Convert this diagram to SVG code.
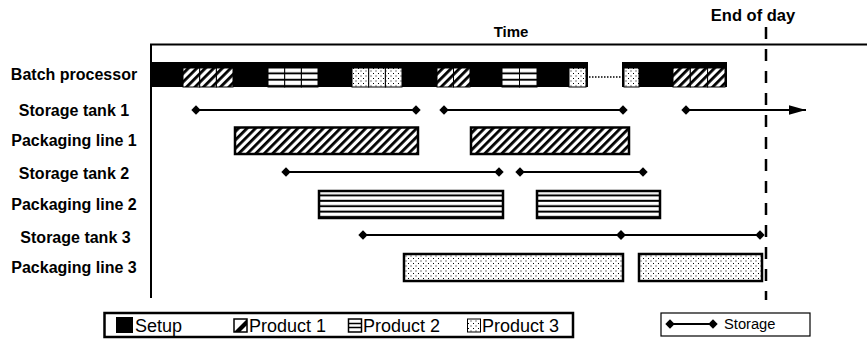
<svg xmlns="http://www.w3.org/2000/svg" width="867" height="339" viewBox="0 0 867 339">
<style>
.lbl{font-family:"Liberation Sans",Arial,sans-serif;font-weight:bold;font-size:16px;fill:#000;text-anchor:middle}
.leg{font-family:"Liberation Sans",Arial,sans-serif;font-size:18px;fill:#000}
.box{stroke:#000;stroke-width:2.5}
.cell{stroke:#000;stroke-width:1}
.st{stroke:#000;stroke-width:2;fill:none;marker-start:url(#dia);marker-end:url(#dia)}
</style>
<defs>
<pattern id="p1" patternUnits="userSpaceOnUse" width="6" height="6" patternTransform="rotate(45)">
<rect width="6" height="6" fill="#fff"/>
<rect x="0" y="0" width="2.8" height="6" fill="#000"/>
</pattern>
<pattern id="p2big" patternUnits="objectBoundingBox" width="1" height="0.2">
<rect width="400" height="6" fill="#fff"/>
<rect x="0" y="3.4" width="400" height="2" fill="#000"/>
</pattern>
<pattern id="p2small" patternUnits="objectBoundingBox" width="1" height="0.3333">
<rect width="40" height="7" fill="#fff"/>
<rect x="0" y="4.4" width="40" height="2" fill="#000"/>
</pattern>
<pattern id="p3" patternUnits="userSpaceOnUse" width="5" height="5">
<rect width="5" height="5" fill="#fff"/>
<rect x="0.5" y="0.5" width="1" height="1" fill="#000"/>
<rect x="3" y="3" width="1" height="1" fill="#000"/>
</pattern>
<marker id="dia" viewBox="-5 -5 10 10" refX="0" refY="0" markerWidth="10" markerHeight="10" markerUnits="userSpaceOnUse" orient="auto">
<path d="M0,-4.7 L4.7,0 L0,4.7 L-4.7,0 Z" fill="#000"/>
</marker>
<marker id="arr" viewBox="0 -5 17 10" refX="17" refY="0" markerWidth="17" markerHeight="10" markerUnits="userSpaceOnUse" orient="auto">
<path d="M0,-4.7 L17,0 L0,4.7 Z" fill="#000"/>
</marker>
</defs>

<g id="axes">
<line x1="151" y1="44" x2="151" y2="298" stroke="#000" stroke-width="2"/>
<line x1="150" y1="44.5" x2="867" y2="44.5" stroke="#000" stroke-width="2"/>
<text class="lbl" x="511" y="37" style="font-size:15px">Time</text>
<text class="lbl" x="753" y="21" style="font-size:16.5px">End of day</text>
</g>

<g id="batch-processor">
<text class="lbl" x="74" y="80">Batch processor</text>
<rect x="151" y="62" width="437" height="25" fill="#000"/>
<rect x="622" y="62" width="105" height="25" fill="#000"/>
<line x1="589" y1="77" x2="621" y2="77" stroke="#000" stroke-width="1.3" stroke-dasharray="1.5 1.5"/>
<g class="cell">
<rect x="183" y="68" width="16.7" height="19" fill="url(#p1)"/>
<rect x="199.7" y="68" width="16.7" height="19" fill="url(#p1)"/>
<rect x="216.4" y="68" width="16.6" height="19" fill="url(#p1)"/>
<rect x="268" y="68" width="16.7" height="19" fill="url(#p2small)"/>
<rect x="284.7" y="68" width="16.7" height="19" fill="url(#p2small)"/>
<rect x="301.4" y="68" width="16.6" height="19" fill="url(#p2small)"/>
<rect x="352" y="68" width="16.7" height="19" fill="url(#p3)"/>
<rect x="368.7" y="68" width="16.7" height="19" fill="url(#p3)"/>
<rect x="385.4" y="68" width="16.6" height="19" fill="url(#p3)"/>
<rect x="437" y="68" width="16.5" height="19" fill="url(#p1)"/>
<rect x="453.5" y="68" width="16.5" height="19" fill="url(#p1)"/>
<rect x="502" y="68" width="17.5" height="19" fill="url(#p2small)"/>
<rect x="519.5" y="68" width="17.5" height="19" fill="url(#p2small)"/>
<rect x="569" y="68" width="17" height="19" fill="url(#p3)"/>
<rect x="624" y="68" width="15" height="19" fill="url(#p3)"/>
<rect x="673" y="68" width="17.3" height="19" fill="url(#p1)"/>
<rect x="690.3" y="68" width="17.3" height="19" fill="url(#p1)"/>
<rect x="707.6" y="68" width="17.4" height="19" fill="url(#p1)"/>
</g>
</g>

<g id="storage-tank-1">
<text class="lbl" x="74" y="116">Storage tank 1</text>
<line class="st" x1="196" y1="110" x2="416" y2="110"/>
<line class="st" x1="444" y1="110" x2="623" y2="110"/>
<line x1="686" y1="110" x2="806" y2="110" stroke="#000" stroke-width="2" marker-start="url(#dia)" marker-end="url(#arr)"/>
</g>

<g id="packaging-line-1">
<text class="lbl" x="74" y="146">Packaging line 1</text>
<rect class="box" x="235" y="127.5" width="183" height="26.5" fill="url(#p1)"/>
<rect class="box" x="471" y="127.5" width="158" height="26.5" fill="url(#p1)"/>
</g>

<g id="storage-tank-2">
<text class="lbl" x="74" y="179">Storage tank 2</text>
<line class="st" x1="286" y1="172" x2="499" y2="172"/>
<line class="st" x1="520" y1="172" x2="643" y2="172"/>
</g>

<g id="packaging-line-2">
<text class="lbl" x="74" y="210">Packaging line 2</text>
<rect class="box" x="319" y="191" width="184" height="27" fill="url(#p2big)"/>
<rect class="box" x="537" y="191" width="123" height="27" fill="url(#p2big)"/>
</g>

<g id="storage-tank-3">
<text class="lbl" x="75.5" y="243">Storage tank 3</text>
<line class="st" x1="363" y1="235" x2="621" y2="235"/>
<line class="st" x1="621" y1="235" x2="760" y2="235"/>
</g>

<g id="packaging-line-3">
<text class="lbl" x="74" y="273">Packaging line 3</text>
<rect class="box" x="404" y="254" width="219" height="27" fill="url(#p3)"/>
<rect class="box" x="639" y="254" width="123" height="27" fill="url(#p3)"/>
</g>

<g id="end-of-day-line">
<line x1="766" y1="27" x2="766" y2="300" stroke="#000" stroke-width="2.5" stroke-dasharray="12 10"/>
</g>

<g id="legend-products">
<rect x="104.5" y="313" width="468.5" height="24" fill="#fff" stroke="#000" stroke-width="2.5"/>
<rect x="116" y="317" width="17" height="16" fill="#000"/>
<text class="leg" x="135" y="332">Setup</text>
<rect x="234" y="319" width="13" height="13" fill="#fff" stroke="#000" stroke-width="1.5"/>
<path d="M234,332 L247,319 L247,325 L240,332 Z" fill="#000"/>
<text class="leg" x="249" y="332">Product 1</text>
<rect x="348.5" y="319" width="13" height="13" fill="#fff" stroke="#000" stroke-width="1.5"/>
<line x1="348.5" y1="323.5" x2="361.5" y2="323.5" stroke="#000" stroke-width="1.5"/>
<line x1="348.5" y1="327.5" x2="361.5" y2="327.5" stroke="#000" stroke-width="1.5"/>
<text class="leg" x="363" y="332">Product 2</text>
<rect x="467.5" y="319" width="13" height="13" fill="url(#p3)" stroke="#000" stroke-width="1"/>
<text class="leg" x="482" y="332">Product 3</text>
</g>

<g id="legend-storage">
<rect x="661" y="313" width="149" height="23" fill="#fff" stroke="#000" stroke-width="1.2"/>
<line class="st" x1="670" y1="324" x2="713" y2="324"/>
<text class="leg" x="724" y="329" style="font-size:14.7px">Storage</text>
</g>
</svg>
